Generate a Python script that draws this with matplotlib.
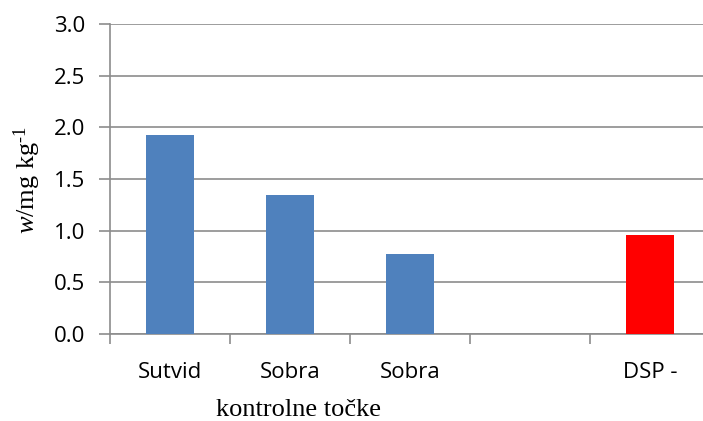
import numpy as np
import matplotlib.pyplot as plt

# values
categories = ["Sutvid", "Sobra", "Sobra", "", "DSP -"]
values = [1.93, 1.35, 0.77, np.nan, 0.96]
colors = ["#4F81BD", "#4F81BD", "#4F81BD", "#4F81BD", "#FF0000"]
y_ticks = [0.0, 0.5, 1.0, 1.5, 2.0, 2.5, 3.0]

grid_col = "#8C8C8C"


def main():
    fig = plt.figure(figsize=(7.03, 4.21), dpi=100)
    # plot area runs a little past the right edge, as in the reference
    ax = fig.add_axes([110 / 703, 87 / 421, 600 / 703, 310 / 421])

    x = np.arange(len(categories))
    ax.bar(x, values, width=0.4, color=colors, zorder=3)

    ax.set_ylim(0, 3.0)
    ax.set_xlim(-0.5, len(categories) - 0.5)
    ax.set_yticks(y_ticks)
    ax.set_yticklabels([f"{t:.1f}" for t in y_ticks], fontsize=16,
                       family="Open Sans")
    ax.yaxis.grid(True, color=grid_col, linewidth=1.2, zorder=0)

    ax.set_xticks(x)
    ax.set_xticklabels(categories, fontsize=16, family="Open Sans")
    ax.set_xticks(np.arange(len(categories) + 1) - 0.5, minor=True)
    ax.tick_params(axis="x", which="major", length=0, pad=20)
    ax.tick_params(axis="x", which="minor", length=7, color=grid_col, width=1.2)
    ax.tick_params(axis="y", length=8, color=grid_col, width=1.2, pad=10)

    for s in ["top", "right"]:
        ax.spines[s].set_visible(False)
    for s in ["left", "bottom"]:
        ax.spines[s].set_color(grid_col)
        ax.spines[s].set_linewidth(1.2)

    fig.text(27 / 703, 1 - 180 / 421, r"$\mathit{w}$/mg kg$^{\text{-1}}$",
             fontsize=19, family="Liberation Serif", rotation=90,
             ha="center", va="center")
    fig.text(299 / 703, 1 - 410 / 421, "kontrolne točke", fontsize=19,
             family="Liberation Serif", ha="center", va="center")

    fig.savefig("out.png", dpi=100)


if __name__ == "__main__":
    plt.rcParams["mathtext.fontset"] = "custom"
    plt.rcParams["mathtext.rm"] = "Liberation Serif"
    plt.rcParams["mathtext.it"] = "Liberation Serif:italic"
    main()
